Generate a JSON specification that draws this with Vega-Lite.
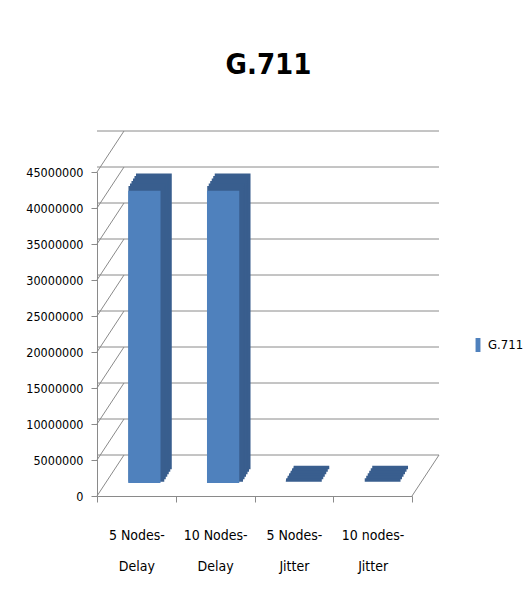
{
  "$schema": "https://vega.github.io/schema/vega-lite/v6.json",
  "autosize": "none",
  "width": 315,
  "height": 324,
  "padding": {"left": 97, "top": 172, "right": 114, "bottom": 105},
  "background": "white",
  "config": {
    "view": {"stroke": null},
    "font": "DejaVu Sans Condensed",
    "axisY": {"grid": false, "domainColor": "#8a8a8a", "tickColor": "#8a8a8a", "tickSize": 6, "labelFontSize": 12.5, "labelColor": "black", "labelPadding": 8, "labelOverlap": false, "labelFont": "DejaVu Sans Condensed"},
    "axisX": {"labelAngle": 0, "domainColor": "#8a8a8a", "tickColor": "#8a8a8a", "tickBand": "extent", "tickSize": 6, "labelFontSize": 14, "labelColor": "black", "labelPadding": 26, "labelLineHeight": 31, "labelFont": "DejaVu Sans Condensed"}
  },
  "title": {"text": "G.711", "fontSize": 29, "fontWeight": "bold", "font": "DejaVu Sans Condensed", "anchor": "middle", "frame": "group", "baseline": "alphabetic", "offset": 28, "dx": 14, "color": "black"},
  "datasets": {
    "bars": [
      {"category": "5 Nodes-Delay", "value": 40600000, "series": "G.711"},
      {"category": "10 Nodes-Delay", "value": 40600000, "series": "G.711"},
      {"category": "5 Nodes-Jitter", "value": 15, "series": "G.711"},
      {"category": "10 nodes-Jitter", "value": 15, "series": "G.711"}
    ],
    "ticks": [
      {"v": 0}, {"v": 5000000}, {"v": 10000000}, {"v": 15000000}, {"v": 20000000},
      {"v": 25000000}, {"v": 30000000}, {"v": 35000000}, {"v": 40000000}, {"v": 45000000}
    ]
  },
  "layer": [
    {
      "data": {"name": "ticks"},
      "mark": {"type": "rule", "color": "#8a8a8a", "strokeWidth": 1, "xOffset": 27, "x2Offset": 27, "yOffset": -41},
      "encoding": {
        "y": {"field": "v", "type": "quantitative", "scale": {"domain": [0, 45000000]}, "title": null,
          "axis": {"values": [0, 5000000, 10000000, 15000000, 20000000, 25000000, 30000000, 35000000, 40000000, 45000000], "format": "d"}}
      }
    },
    {
      "data": {"name": "ticks"},
      "mark": {"type": "rule", "color": "#8a8a8a", "strokeWidth": 1, "x2Offset": 27, "y2Offset": -41},
      "encoding": {
        "x": {"datum": "5 Nodes-Delay", "type": "nominal", "bandPosition": 0, "title": null},
        "x2": {"datum": "5 Nodes-Delay", "bandPosition": 0},
        "y": {"field": "v", "type": "quantitative", "title": null,
          "axis": {"values": [0, 5000000, 10000000, 15000000, 20000000, 25000000, 30000000, 35000000, 40000000, 45000000], "format": "d"}},
        "y2": {"field": "v"}
      }
    },
    {
      "data": {"name": "ticks"},
      "transform": [{"filter": "datum.v == 0"}],
      "mark": {"type": "rule", "color": "#8a8a8a", "strokeWidth": 1, "x2Offset": 27, "y2Offset": -41},
      "encoding": {
        "x": {"datum": "10 nodes-Jitter", "type": "nominal", "bandPosition": 1, "title": null},
        "x2": {"datum": "10 nodes-Jitter", "bandPosition": 1},
        "y": {"field": "v", "type": "quantitative", "title": null,
          "axis": {"values": [0, 5000000, 10000000, 15000000, 20000000, 25000000, 30000000, 35000000, 40000000, 45000000], "format": "d"}},
        "y2": {"field": "v"}
      }
    },
    {
      "data": {"name": "bars"},
      "encoding": {
        "x": {
          "field": "category", "type": "nominal", "title": null,
          "scale": {"domain": ["5 Nodes-Delay", "10 Nodes-Delay", "5 Nodes-Jitter", "10 nodes-Jitter"], "paddingInner": 0, "paddingOuter": 0},
          "axis": {"labelExpr": "datum.label ? [split(datum.label, '-')[0] + '-', split(datum.label, '-')[1]] : ''"}
        },
        "y": {"field": "value", "type": "quantitative", "title": null,
          "axis": {"values": [0, 5000000, 10000000, 15000000, 20000000, 25000000, 30000000, 35000000, 40000000, 45000000], "format": "d"}}
      },
      "layer": [
        {"mark": {"type": "bar", "width": {"band": 0.41}, "color": "#395E8E", "stroke": "#395E8E", "strokeWidth": 3.5, "xOffset": 17.5, "x2Offset": 17.5, "yOffset": -28.5, "y2Offset": -28.5}},
        {"mark": {"type": "bar", "width": {"band": 0.41}, "color": "#395E8E", "stroke": "#395E8E", "strokeWidth": 3.5, "xOffset": 16, "x2Offset": 16, "yOffset": -26, "y2Offset": -26}},
        {"mark": {"type": "bar", "width": {"band": 0.41}, "color": "#395E8E", "stroke": "#395E8E", "strokeWidth": 3.5, "xOffset": 14.5, "x2Offset": 14.5, "yOffset": -23.5, "y2Offset": -23.5}},
        {"mark": {"type": "bar", "width": {"band": 0.41}, "color": "#395E8E", "stroke": "#395E8E", "strokeWidth": 3.5, "xOffset": 13, "x2Offset": 13, "yOffset": -21, "y2Offset": -21}},
        {"mark": {"type": "bar", "width": {"band": 0.41}, "color": "#395E8E", "stroke": "#395E8E", "strokeWidth": 3.5, "xOffset": 11.5, "x2Offset": 11.5, "yOffset": -18.5, "y2Offset": -18.5}},
        {"mark": {"type": "bar", "width": {"band": 0.41}, "color": "#395E8E", "stroke": "#395E8E", "strokeWidth": 3.5, "xOffset": 10, "x2Offset": 10, "yOffset": -16, "y2Offset": -16}},
        {
          "mark": {"type": "bar", "width": {"band": 0.41}, "xOffset": 8, "x2Offset": 8, "yOffset": -13, "y2Offset": -13},
          "encoding": {
            "color": {
              "field": "series", "type": "nominal", "scale": {"range": ["#4F81BD"]},
              "legend": {
                "title": null, "orient": "none", "legendX": 374, "legendY": 166, "padding": 0,
                "symbolType": "M-0.35,-1H0.35V1H-0.35Z", "symbolSize": 196, "symbolStrokeWidth": 0,
                "labelFontSize": 13, "labelColor": "black", "labelOffset": 3, "labelFont": "DejaVu Sans Condensed"
              }
            }
          }
        }
      ]
    }
  ]
}
